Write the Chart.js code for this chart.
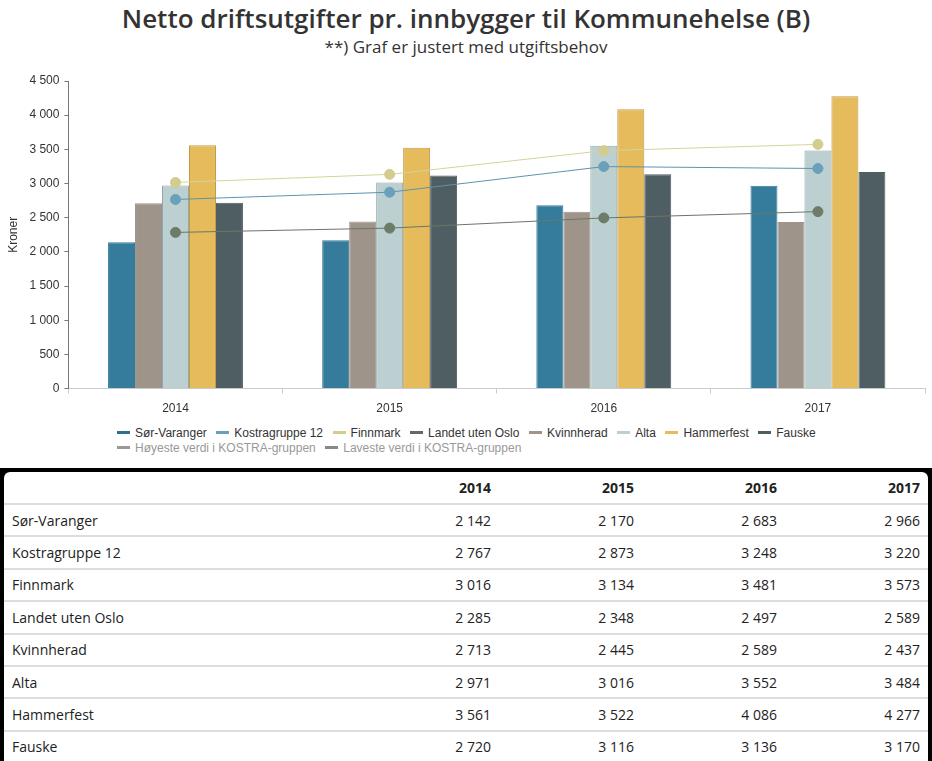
<!DOCTYPE html>
<html>
<head>
<meta charset="utf-8">
<script src="https://cdn.jsdelivr.net/npm/chart.js@4.4.0/dist/chart.umd.min.js"></script>
<style>
  html, body { margin: 0; padding: 0; background: #fff; }
  body { width: 932px; height: 761px; position: relative; overflow: hidden; }
  .title { position: absolute; left: 0; width: 932px; text-align: center; color: #333;
           font-family: "Open Sans", sans-serif; white-space: nowrap; }
  #t1 { top: 0; font-size: 26px; font-weight: 600; line-height: 36px; }
  #t2 { top: 35px; font-size: 17px; line-height: 24px; }
  #wrap { position: absolute; left: 0; top: 60px; width: 932px; height: 364px; }
  #legend { position: absolute; left: 117px; top: 426px; width: 800px;
            font: 12px "Liberation Sans", Arial, sans-serif; color: #333; }
  #legend .row { height: 15px; line-height: 15px; white-space: nowrap; }
  #legend .item { display: inline-block; margin-right: 9.5px; }
  #legend .mark { display: inline-block; width: 13px; height: 3px; vertical-align: middle;
                  margin-right: 5px; position: relative; top: -1px; }
  #box { position: absolute; left: 0; top: 468px; width: 924px; height: 300px;
         background: #000; padding: 4px; }
  #inner { background: #fff; border-radius: 6px 6px 0 0; height: 100%; overflow: hidden; }
  table { border-collapse: collapse; width: 100%; font-family: "Open Sans", sans-serif;
          font-size: 14px; color: #222; }
  td, th { border-bottom: 2px solid #ddd; padding: 0; height: 30.4px; }
  th { height: 31px; font-weight: 700; text-align: right; }
  td.num, th.num { text-align: right; width: 135px; padding-right: 8px; }
  td.lab { padding-left: 8px; }
</style>
</head>
<body>
<div class="title" id="t1">Netto driftsutgifter pr. innbygger til Kommunehelse (B)</div>
<div class="title" id="t2">**) Graf er justert med utgiftsbehov</div>
<div id="wrap"><canvas id="chart"></canvas></div>
<div id="legend"></div>
<div id="box"><div id="inner"><table id="tbl"></table></div></div>
<script>
var years = ['2014', '2015', '2016', '2017'];
var tickValues = [0, 500, 1000, 1500, 2000, 2500, 3000, 3500, 4000, 4500];

var sorVaranger = [2142, 2170, 2683, 2966];
var kostragruppe12 = [2767, 2873, 3248, 3220];
var finnmark = [3016, 3134, 3481, 3573];
var landetUtenOslo = [2285, 2348, 2497, 2589];
var kvinnherad = [2713, 2445, 2589, 2437];
var alta = [2971, 3016, 3552, 3484];
var hammerfest = [3561, 3522, 4086, 4277];
var fauske = [2720, 3116, 3136, 3170];

var tableRows = [
    ['Sør-Varanger', sorVaranger],
    ['Kostragruppe 12', kostragruppe12],
    ['Finnmark', finnmark],
    ['Landet uten Oslo', landetUtenOslo],
    ['Kvinnherad', kvinnherad],
    ['Alta', alta],
    ['Hammerfest', hammerfest],
    ['Fauske', fauske]
];

function fmt(v) {
    return String(v).replace(/\B(?=(\d{3})+(?!\d))/g, ' ');
}

function bar(label, data, color, border) {
    return {
        type: 'bar', label: label, data: data, order: 1,
        backgroundColor: color, borderColor: border, borderWidth: 1,
        borderSkipped: 'bottom'
    };
}

function line(label, data, color, pointColor) {
    return {
        type: 'line', label: label, data: data, order: 0,
        borderColor: color, borderWidth: 1, backgroundColor: pointColor,
        pointBackgroundColor: pointColor, pointBorderColor: pointColor,
        pointRadius: 5, pointHoverRadius: 5, fill: false, tension: 0
    };
}

var datasets = [
    bar('Sør-Varanger', sorVaranger, '#357b9b', '#357b9b'),
    line('Kostragruppe 12', kostragruppe12, '#5f93ad', '#6aa0ba'),
    line('Finnmark', finnmark, '#d6d39b', '#d2cd8f'),
    line('Landet uten Oslo', landetUtenOslo, '#6a7767', '#6d7c69'),
    bar('Kvinnherad', kvinnherad, '#9e948a', '#9e948a'),
    bar('Alta', alta, '#bccfd1', '#8ea9ad'),
    bar('Hammerfest', hammerfest, '#e5bb5c', '#c29a45'),
    bar('Fauske', fauske, '#4f5e63', '#4f5e63')
];

var legendItems = [
    ['Sør-Varanger', '#2f6f8c', '#333'],
    ['Kostragruppe 12', '#6aa0ba', '#333'],
    ['Finnmark', '#d2cd8f', '#333'],
    ['Landet uten Oslo', '#666', '#333'],
    ['Kvinnherad', '#9e948a', '#333'],
    ['Alta', '#bccfd1', '#333'],
    ['Hammerfest', '#e5bb5c', '#333'],
    ['Fauske', '#4f5e63', '#333'],
    ['Høyeste verdi i KOSTRA-gruppen', '#999', '#999'],
    ['Laveste verdi i KOSTRA-gruppen', '#888', '#999']
];

var lg = document.getElementById('legend');
var rowHtml = ['', ''];
legendItems.forEach(function (it, i) {
    rowHtml[i < 8 ? 0 : 1] += '<span class="item" style="color:' + it[2] + '"><span class="mark" style="background:' +
        it[1] + '"></span>' + it[0] + '</span>';
});
lg.innerHTML = '<div class="row">' + rowHtml[0] + '</div><div class="row">' + rowHtml[1] + '</div>';

var html = '<tr><th style="text-align:left"></th>';
years.forEach(function (y) { html += '<th class="num">' + y + '</th>'; });
html += '</tr>';
tableRows.forEach(function (r) {
    html += '<tr><td class="lab">' + r[0] + '</td>';
    r[1].forEach(function (v) { html += '<td class="num">' + fmt(v) + '</td>'; });
    html += '</tr>';
});
document.getElementById('tbl').innerHTML = html;

var chart = new Chart(document.getElementById('chart'), {
    data: { labels: years, datasets: datasets },
    options: {
        responsive: true,
        maintainAspectRatio: false,
        animation: false,
        layout: { padding: { top: 21, right: 7, left: 6, bottom: 0 } },
        plugins: { legend: { display: false }, tooltip: { enabled: false } },
        datasets: { bar: { barPercentage: 1, categoryPercentage: 0.63 } },
        scales: {
            x: {
                offset: true,
                grid: { display: true, drawOnChartArea: false, drawTicks: true, tickLength: 5, color: '#ccc', offset: true },
                border: { display: true, color: '#ccc', width: 1 },
                ticks: { color: '#333', font: { family: 'Liberation Sans', size: 12 }, padding: 8 }
            },
            y: {
                min: 0, max: 4500,
                afterBuildTicks: function (axis) {
                    axis.ticks = tickValues.map(function (v) { return { value: v }; });
                },
                title: { display: true, text: 'Kroner', color: '#333', font: { family: 'Liberation Sans', size: 12 }, padding: { top: 0, bottom: 4 } },
                grid: { display: true, drawOnChartArea: false, drawTicks: true, tickLength: 4, color: '#777' },
                border: { display: true, color: '#777', width: 1 },
                ticks: {
                    color: '#333', font: { family: 'Liberation Sans', size: 12 }, padding: 5,
                    callback: function (v) { return fmt(v); }
                }
            }
        }
    }
});
</script>
</body>
</html>
